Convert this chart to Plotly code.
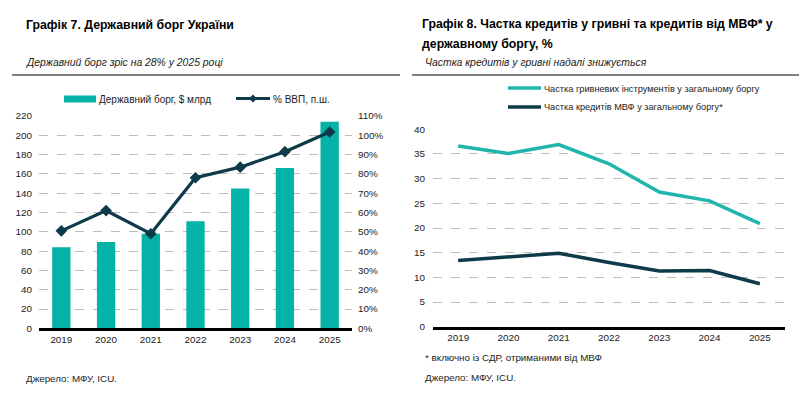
import plotly.graph_objects as go

years = ["2019", "2020", "2021", "2022", "2023", "2024", "2025"]
debt_usd_bn = [84, 89.5, 98, 111, 145, 166, 214]
debt_pct_gdp = [0.505, 0.61, 0.49, 0.78, 0.835, 0.915, 1.017]
uah_share = [36.6, 35.1, 36.9, 33.0, 27.3, 25.5, 20.9]
imf_share = [13.4, 14.2, 14.9, 13.0, 11.3, 11.4, 8.7]

names_left = ["Державний борг, $ млрд", "% ВВП, п.ш."]
names_right = ["Частка гривневих інструментів у загальному боргу",
               "Частка кредитів МВФ у загальному боргу*"]

W, H = 799, 396
def px(x): return x / W
def py(y): return 1 - y / H

TEAL = "#05B2A8"
TEAL2 = "#20B5AD"
NAVY = "#0E3B49"
FONT = "Liberation Sans, Arial, sans-serif"
TXT = "#222222"

fig = go.Figure()

fig.add_trace(go.Bar(x=years, y=debt_usd_bn, name=names_left[0],
                     marker=dict(color=TEAL, line=dict(width=0)), width=0.41,
                     xaxis="x", yaxis="y"))
fig.add_trace(go.Scatter(x=years, y=debt_pct_gdp, name=names_left[1], mode="lines+markers",
                         line=dict(color=NAVY, width=3.2),
                         marker=dict(symbol="diamond", size=9, color=NAVY),
                         xaxis="x", yaxis="y2"))
fig.add_trace(go.Scatter(x=years, y=uah_share, name=names_right[0],
                         mode="lines", line=dict(color=TEAL2, width=3.5),
                         xaxis="x3", yaxis="y3"))
fig.add_trace(go.Scatter(x=years, y=imf_share, name=names_right[1],
                         mode="lines", line=dict(color=NAVY, width=3.5),
                         xaxis="x3", yaxis="y3"))

tickfont = dict(family=FONT, size=9.9, color=TXT)
grid = dict(showgrid=True, gridcolor="#BDBDBD", griddash="dash", gridwidth=1)
common = dict(automargin=False, ticks="", zeroline=False)

fig.update_layout(
    template="none",
    width=W, height=H, margin=dict(l=0, r=0, t=0, b=0, autoexpand=False),
    paper_bgcolor="white", plot_bgcolor="white",
    font=dict(family=FONT, size=10, color=TXT),
    showlegend=False,
    xaxis=dict(domain=[px(39), px(352)], anchor="y", type="category", tickfont=tickfont,
               range=[-0.5, 6.5], showline=True, linecolor="black", linewidth=2.5,
               showgrid=False, **common),
    yaxis=dict(domain=[py(328.3), py(116)], range=[0, 220], dtick=20, tickfont=tickfont,
               ticklabelstandoff=6, showline=False, **grid, **common),
    yaxis2=dict(overlaying="y", side="right", anchor="x", range=[0, 1.1], dtick=0.1,
                tickformat=".0%", tickfont=tickfont, ticklabelstandoff=5,
                showgrid=False, showline=False, **common),
    xaxis3=dict(domain=[px(433), px(785)], anchor="y3", type="category", tickfont=tickfont,
                range=[-0.5, 6.5], showline=True, linecolor="black", linewidth=2.5,
                showgrid=False, **common),
    yaxis3=dict(domain=[py(326.7), py(129.3)], range=[0, 40], dtick=5, tickfont=tickfont,
                ticklabelstandoff=7, anchor="x3", showline=False, **grid, **common),
)

def ann(x, y, text, size=11, bold=False, italic=False, color=TXT):
    t = text
    if bold:
        t = "<b>" + t + "</b>"
    if italic:
        t = "<i>" + t + "</i>"
    fig.add_annotation(x=px(x), y=py(y), xref="paper", yref="paper", text=t, showarrow=False,
                       xanchor="left", yanchor="middle", align="left",
                       font=dict(family=FONT, size=size, color=color))

def hline(x0, x1, y, color, width):
    fig.add_shape(type="line", xref="paper", yref="paper", x0=px(x0), x1=px(x1),
                  y0=py(y), y1=py(y), line=dict(color=color, width=width))

# titles
ann(24, 25, "Графік 7. Державний борг України", size=12.3, bold=True, color="#000")
ann(24, 62, "Державний борг зріс на 28% у 2025 році", size=10.4, italic=True)
ann(420, 24, "Графік 8. Частка кредитів у гривні та кредитів від МВФ* у", size=12.3, bold=True, color="#000")
ann(420, 44, "державному боргу, %", size=12.3, bold=True, color="#000")
ann(423, 63, "Частка кредитів у гривні надалі знижується", size=10.4, italic=True)
ann(24, 378, "Джерело: МФУ, ICU.", size=9.8)
ann(423, 357, "* включно із СДР, отриманими від МВФ", size=9.8)
ann(423, 377, "Джерело: МФУ, ICU.", size=9.8)

hline(12, 400, 75, "black", 1)
hline(412, 799, 75, "black", 1)

# left legend
fig.add_shape(type="rect", xref="paper", yref="paper", x0=px(64), x1=px(96), y0=py(102.5),
              y1=py(95.5), line=dict(width=0), fillcolor=TEAL)
ann(97, 99.5, names_left[0], size=10)
hline(236, 270, 98.5, NAVY, 3.2)
fig.add_shape(type="path", xref="paper", yref="paper",
              path="M {} {} L {} {} L {} {} L {} {} Z".format(px(253), py(94.5), px(257), py(98.5),
                                                            px(253), py(102.5), px(249), py(98.5)),
              line=dict(width=0), fillcolor=NAVY)
ann(271, 99.5, names_left[1], size=10)

# right legend
hline(508, 541, 88, TEAL2, 3.5)
ann(542, 88.5, names_right[0], size=9.2)
hline(508, 541, 107, NAVY, 3.5)
ann(542, 107.5, names_right[1], size=9.2)

fig.write_html("out.html", config={"displayModeBar": False},
               post_script="document.body.style.margin='0';document.body.style.overflow='hidden';")
